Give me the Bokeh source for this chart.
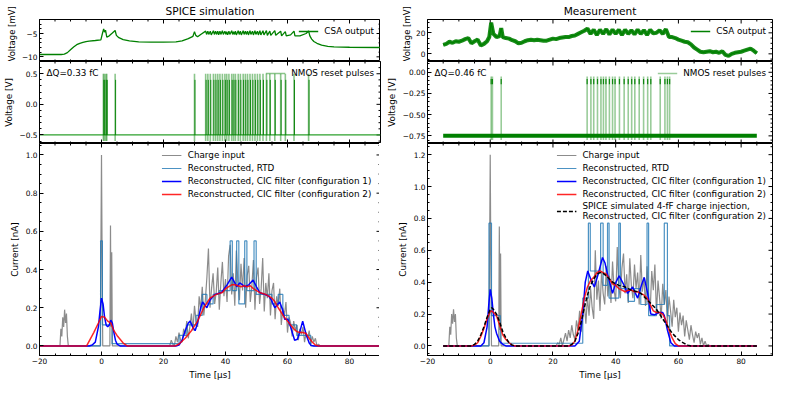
import math
from bokeh.plotting import figure
from bokeh.layouts import column, row
from bokeh.models import (Range1d, LinearAxis, SingleIntervalTicker, CustomJSTickFormatter,
                          Legend, LegendItem, Label, Title)
from bokeh.embed import file_html
from bokeh.resources import INLINE

# ---------------- data ----------------
# SPICE simulation: CSA output [mV] (time µs, value)
sim_csa = [(-20, -9.5), (-13, -9.5), (-12, -9.4), (-11, -9.1), (-10, -8.5), (-9, -7.9), (-8, -7.4),
           (-7, -7.1), (-6, -6.9), (-5, -6.75), (-4, -6.65), (-2, -6.5), (-0.2, -6.35), (0.3, -5.0),
           (0.7, -4.0), (1.0, -4.7), (1.3, -4.3), (1.7, -5.8), (2.5, -5.5), (3.5, -4.9), (4.4, -4.35),
           (4.8, -5.4), (5.6, -5.9), (7, -6.3), (9, -6.6), (12, -6.8), (16, -6.85), (20, -6.85),
           (24, -6.8), (26, -6.6), (28, -6.1), (29.5, -5.6), (30.0, -4.6), (30.4, -5.4), (31.0, -5.7),
           (32.0, -5.2), (33.6, -4.5), (33.9, -5.2), (34.3, -4.5), (34.6, -5.2), (35.1, -4.5),
           (35.4, -5.3), (36.1, -4.4), (36.4, -5.2), (36.8, -4.5), (37.1, -5.2), (37.5, -4.5),
           (37.8, -5.3), (38.2, -4.5), (38.5, -5.2), (39.0, -4.4), (39.3, -5.2), (39.8, -4.5),
           (40.1, -5.2), (40.4, -4.6), (40.7, -5.3), (41.1, -4.5), (41.4, -5.2), (42.0, -4.4),
           (42.3, -5.2), (42.6, -4.6), (42.9, -5.2), (43.2, -4.5), (43.5, -5.3), (44.1, -4.4),
           (44.4, -5.2), (44.8, -4.5), (45.1, -5.3), (45.7, -4.4), (46.0, -5.2), (46.4, -4.5),
           (46.7, -5.2), (47.1, -4.5), (47.4, -5.3), (47.9, -4.4), (48.2, -5.2), (48.7, -4.5),
           (49.0, -5.3), (49.5, -4.4), (49.8, -5.2), (50.3, -4.5), (50.6, -5.3), (51.1, -4.4),
           (51.4, -5.3), (52.1, -4.4), (52.4, -5.3), (53.2, -4.4), (53.5, -5.4), (54.3, -4.5),
           (54.6, -5.4), (55.9, -4.4), (56.2, -5.4), (57.8, -4.5), (58.1, -5.5), (59.3, -4.6),
           (59.6, -5.5), (61.0, -5.3), (62.1, -4.5), (62.4, -5.5), (64.0, -5.5), (66.0, -5.0),
           (66.8, -4.45), (67.2, -5.5), (67.8, -6.2), (68.5, -6.7), (69.5, -7.1), (71, -7.5),
           (73, -7.75), (75, -7.85), (80, -7.95), (90, -8.0)]

# Measurement: CSA output [mV]
meas_csa = [(-15, 8.5), (-14, 9.5), (-13, 11.5), (-12, 10.5), (-11, 12), (-10, 11.5), (-9, 12.5),
            (-8, 14), (-7, 15), (-6, 10), (-5, 12), (-4, 13.5), (-3, 8), (-2, 9.5), (-1, 12),
            (-0.3, 16), (0.3, 29.7), (1, 19), (2, 16), (3, 17), (3.5, 24.5), (4, 16), (5, 15),
            (6, 14.5), (7, 13), (8, 12), (9, 10), (10, 10.5), (11, 12), (12, 13), (13, 13.5),
            (14, 13), (15, 13.5), (16, 13), (17, 12.5), (18, 12.5), (19, 13.5), (20, 14.5),
            (21, 14), (22, 15), (23, 15.5), (24, 16), (25, 16), (26, 17), (27, 17.5), (28, 19),
            (29, 20.5), (30, 22), (31, 24), (32, 19), (33, 23), (34, 18), (35, 23), (36, 19),
            (37, 23.5), (38, 18.5), (39, 23), (40, 19), (41, 23), (42, 18), (43, 23), (44, 19),
            (45, 22.5), (46, 18.5), (47, 23), (48, 19), (49, 22.5), (50, 18), (51, 23), (52, 19.5),
            (53, 20), (54, 22.5), (55, 19), (56, 23.5), (57, 16), (58, 16), (59, 15), (60, 13.5),
            (61, 12.5), (62, 11.5), (63, 11), (64, 9), (65, 6), (66, 4), (67, 2), (68, 1.5),
            (69, 2), (70, 2.5), (71, 1.5), (72, 2), (73, 1), (74, 2.5), (75, -1), (76, -2),
            (77, 0), (78, 1), (79, 1.5), (80, 2), (81, 3), (82, 4), (83, 5), (84, 3), (85, 0.5)]

# NMOS reset pulse times [µs]
sim_pulses = [0.6, 0.9, 1.4, 1.7, 4.4, 30.0, 33.6, 34.3, 35.1, 36.1, 36.8, 37.5, 38.2, 39.0, 39.8,
              40.4, 41.1, 42.0, 42.6, 43.2, 44.1, 44.8, 45.7, 46.4, 47.1, 47.9, 48.7, 49.5, 50.3,
              51.1, 52.1, 53.2, 54.3, 55.9, 57.8, 59.3, 62.1, 66.8]
meas_pulses = [0.3, 0.7, 3.5, 30.9, 32.1, 33.0, 34.2, 35.3, 36.1, 36.9, 38.0, 39.0, 39.8, 41.2,
               42.7, 44.0, 45.1, 46.1, 47.5, 48.9, 50.2, 51.2, 54.2, 55.7, 56.5, 57.2]
sim_pulse_low, sim_pulse_high, sim_pulse_base = -0.6, 0.5, -0.5
meas_pulse_low, meas_pulse_high, meas_pulse_base = -0.8, -0.05, -0.75
meas_pulse_span = (-15, 85)

# Charge input [nA]
sim_charge = [(-20, 0), (-13.4, 0), (-13.1, 0.09), (-12.8, 0.05), (-12.5, 0.15), (-12.2, 0.1),
              (-11.9, 0.19), (-11.6, 0.12), (-11.3, 0.17), (-11.0, 0.05), (-10.7, 0), (-0.4, 0),
              (-0.2, 0.5), (0, 1.0), (0.2, 0.45), (0.4, 0), (2.7, 0), (2.9, 0.63), (3.1, 0.1),
              (3.3, 0.49), (3.5, 0),
              (22.0, 0.00), (22.5, 0.03), (23.0, 0.01), (23.5, 0.00), (24.0, 0.05), (24.5, 0.02),
              (25.0, 0.07), (25.5, 0.03), (26.0, 0.02), (26.5, 0.09), (27.0, 0.06), (27.5, 0.13),
              (28.0, 0.04), (28.5, 0.10), (29.0, 0.17), (29.5, 0.08), (30.0, 0.21), (30.5, 0.13),
              (31.0, 0.10), (31.5, 0.26), (32.0, 0.19), (32.5, 0.31), (33.0, 0.16), (33.5, 0.24),
              (34.0, 0.36), (34.5, 0.51), (35.0, 0.20), (35.5, 0.30), (36.0, 0.38), (36.5, 0.22),
              (37.0, 0.28), (37.5, 0.41), (38.0, 0.19), (38.5, 0.33), (39.0, 0.44), (39.5, 0.26),
              (40.0, 0.35), (40.5, 0.23), (41.0, 0.47), (41.5, 0.53), (42.0, 0.27), (42.5, 0.38),
              (43.0, 0.21), (43.5, 0.50), (44.0, 0.33), (44.5, 0.24), (45.0, 0.43), (45.5, 0.29),
              (46.0, 0.46), (46.5, 0.20), (47.0, 0.37), (47.5, 0.42), (48.0, 0.23), (48.5, 0.31),
              (49.0, 0.45), (49.5, 0.19), (50.0, 0.36), (50.5, 0.41), (51.0, 0.22), (51.5, 0.30),
              (52.0, 0.46), (52.5, 0.18), (53.0, 0.33), (53.5, 0.25), (54.0, 0.38), (54.5, 0.16),
              (55.0, 0.29), (55.5, 0.33), (56.0, 0.14), (56.5, 0.26), (57.0, 0.21), (57.5, 0.30),
              (58.0, 0.11), (58.5, 0.20), (59.0, 0.16), (59.5, 0.23), (60.0, 0.07), (60.5, 0.15),
              (61.0, 0.12), (61.5, 0.05), (62.0, 0.13), (62.5, 0.08), (63.0, 0.11), (63.5, 0.03),
              (64.0, 0.09), (64.5, 0.06), (65.0, 0.10), (65.5, 0.02), (66.0, 0.07), (66.5, 0.04),
              (67.0, 0.08), (67.5, 0.01), (68.0, 0.05), (68.5, 0.02), (69.0, 0.04), (69.5, 0.00),
              (70.0, 0.01), (70.5, 0.0), (90, 0)]

meas_charge = [(-15, 0), (-13.2, 0), (-12.9, 0.12), (-12.6, 0.07), (-12.3, 0.2), (-12.0, 0.14),
               (-11.7, 0.23), (-11.4, 0.15), (-11.1, 0.2), (-10.8, 0.05), (-10.5, 0), (-0.4, 0),
               (-0.2, 0.6), (0, 1.2), (0.2, 0.5), (0.4, 0), (2.7, 0), (2.9, 0.75), (3.1, 0.1),
               (3.3, 0.58), (3.5, 0),
               (21.0, 0.00), (21.5, 0.02), (22.0, 0.01), (22.5, 0.05), (23.0, 0.00), (23.5, 0.04),
               (24.0, 0.08), (24.5, 0.03), (25.0, 0.10), (25.5, 0.05), (26.0, 0.13), (26.5, 0.07),
               (27.0, 0.04), (27.5, 0.16), (28.0, 0.10), (28.5, 0.22), (29.0, 0.09), (29.5, 0.18),
               (30.0, 0.27), (30.5, 0.14), (31.0, 0.31), (31.5, 0.19), (32.0, 0.36), (32.5, 0.24),
               (33.0, 0.17), (33.5, 0.60), (34.0, 0.29), (34.5, 0.41), (35.0, 0.22), (35.5, 0.47),
               (36.0, 0.33), (36.5, 0.26), (37.0, 0.50), (37.5, 0.31), (38.0, 0.44), (38.5, 0.27),
               (39.0, 0.53), (39.5, 0.35), (40.0, 0.28), (40.5, 0.62), (41.0, 0.37), (41.5, 0.30),
               (42.0, 0.49), (42.5, 0.58), (43.0, 0.33), (43.5, 0.45), (44.0, 0.27), (44.5, 0.55),
               (45.0, 0.38), (45.5, 0.30), (46.0, 0.51), (46.5, 0.36), (47.0, 0.46), (47.5, 0.26),
               (48.0, 0.57), (48.5, 0.34), (49.0, 0.43), (49.5, 0.25), (50.0, 0.50), (50.5, 0.31),
               (51.0, 0.22), (51.5, 0.47), (52.0, 0.35), (52.5, 0.51), (53.0, 0.20), (53.5, 0.41),
               (54.0, 0.30), (54.5, 0.17), (55.0, 0.39), (55.5, 0.26), (56.0, 0.35), (56.5, 0.14),
               (57.0, 0.31), (57.5, 0.22), (58.0, 0.12), (58.5, 0.29), (59.0, 0.18), (59.5, 0.24),
               (60.0, 0.09), (60.5, 0.21), (61.0, 0.13), (61.5, 0.19), (62.0, 0.06), (62.5, 0.16),
               (63.0, 0.10), (63.5, 0.04), (64.0, 0.13), (64.5, 0.07), (65.0, 0.02), (65.5, 0.09),
               (66.0, 0.05), (66.5, 0.08), (67.0, 0.01), (67.5, 0.05), (68.0, 0.00), (68.5, 0.03),
               (69.0, 0.00), (69.5, 0.01), (70.0, 0.00), (85, 0)]

# Reconstructed, RTD (step start time, level)
sim_rtd = [(-20, 0), (-0.3, 0.55), (0.3, 0.11), (3.4, 0.012), (25.0, 0.055), (27.5, 0.11),
           (30.5, 0.16), (32.5, 0.27), (34.0, 0.22), (36.0, 0.27), (38.0, 0.29), (41.5, 0.55),
           (42.2, 0.29), (43.6, 0.55), (44.3, 0.22), (46.2, 0.55), (46.9, 0.29), (49.2, 0.55),
           (49.9, 0.27), (52.0, 0.27), (55.0, 0.22), (57.0, 0.27), (58.5, 0.16), (60.5, 0.11),
           (63.0, 0.055), (67.5, 0), (90, 0)]
meas_rtd = [(-15, 0), (-0.4, 0.77), (0.4, 0.19), (3.2, 0.017), (29.5, 0.3), (31.3, 0.77),
            (31.9, 0.47), (35.2, 0.77), (36.0, 0.38), (37.4, 0.77), (37.9, 0.30), (41.0, 0.77),
            (41.5, 0.36), (44.0, 0.28), (46.0, 0.36), (48.0, 0.26), (50.0, 0.77), (50.5, 0.19),
            (53.0, 0.26), (55.5, 0.77), (56.5, 0.19), (57.2, 0), (85, 0)]

# Reconstructed, CIC filter (configuration 1)
sim_cic1 = [(-20, 0), (-4, 0), (-3, 0.005), (-2, 0.02), (-1, 0.1), (-0.5, 0.18), (0, 0.25),
            (0.5, 0.22), (1, 0.15), (1.5, 0.11), (2, 0.10), (2.5, 0.11), (3, 0.135), (3.5, 0.12),
            (4, 0.07), (4.5, 0.03), (5, 0.01), (6, 0), (24, 0), (25, 0.005), (26, 0.03), (27, 0.08),
            (28, 0.12), (28.6, 0.13), (29.4, 0.1), (30.2, 0.08), (31, 0.12), (32, 0.2), (32.6, 0.23),
            (34, 0.2), (35, 0.24), (36.6, 0.27), (38.7, 0.28), (40.5, 0.32), (42, 0.36), (43, 0.33),
            (43.6, 0.31), (44.6, 0.33), (45.5, 0.32), (46.2, 0.31), (47.5, 0.32), (48.9, 0.345),
            (50, 0.31), (51, 0.28), (52.6, 0.27), (54, 0.26), (54.8, 0.24), (55.9, 0.2), (57.5, 0.23),
            (58.4, 0.19), (59.1, 0.14), (60.1, 0.14), (61, 0.1), (62.3, 0.03), (63.2, 0.035),
            (63.9, 0.07), (64.9, 0.13), (66, 0.06), (67, 0.015), (67.6, 0.003), (68.5, 0), (90, 0)]
meas_cic1 = [(-15, 0), (-3, 0), (-2, 0.02), (-1, 0.12), (-0.5, 0.25), (0, 0.355), (0.5, 0.3),
             (1, 0.2), (1.5, 0.12), (2, 0.08), (3, 0.03), (4, 0.01), (5, 0), (27, 0), (28.4, 0.03),
             (29.5, 0.2), (30.3, 0.4), (31.1, 0.47), (32.2, 0.41), (33.2, 0.37), (34.4, 0.45),
             (35.8, 0.555), (36.6, 0.52), (37.4, 0.45), (39.0, 0.33), (40.1, 0.4), (41.1, 0.44),
             (42.7, 0.38), (43.8, 0.33), (45.4, 0.37), (47.0, 0.3), (48.2, 0.38), (49.1, 0.43),
             (50.2, 0.33), (51.2, 0.2), (52.3, 0.195), (53.9, 0.21), (55.0, 0.21), (55.5, 0.19),
             (56.5, 0.1), (57.6, 0.02), (58.7, 0), (85, 0)]

# Reconstructed, CIC filter (configuration 2)
sim_cic2 = [(-20, 0), (-4.8, 0), (-3.5, 0.04), (-2.5, 0.07), (-1, 0.12), (0, 0.155), (1, 0.15),
            (2, 0.13), (3, 0.12), (4, 0.08), (5, 0.055), (6, 0.035), (7, 0.015), (8.3, 0),
            (23.8, 0), (25, 0.01), (27, 0.04), (29, 0.08), (31, 0.13), (33, 0.2), (35, 0.25),
            (37, 0.27), (39, 0.28), (40, 0.3), (42, 0.32), (43, 0.32), (44, 0.315), (45, 0.31),
            (46, 0.315), (47, 0.31), (48, 0.315), (49, 0.3), (50, 0.29), (51, 0.28), (52, 0.275),
            (53, 0.27), (54, 0.26), (55, 0.25), (56, 0.23), (57, 0.2), (58, 0.175), (59, 0.15),
            (60, 0.13), (61, 0.11), (62, 0.09), (63, 0.075), (64, 0.07), (65, 0.07), (66, 0.065),
            (67, 0.04), (68, 0.02), (69, 0.005), (70, 0), (90, 0)]
meas_cic2 = [(-15, 0), (-6, 0), (-5, 0.005), (-4, 0.02), (-3, 0.06), (-2, 0.11), (-1, 0.17),
             (0, 0.215), (0.5, 0.22), (1, 0.21), (2, 0.19), (3, 0.13), (4, 0.07), (5, 0.04),
             (6, 0.02), (7, 0.005), (8, 0), (25, 0), (26, 0.005), (27, 0.03), (28, 0.1), (29, 0.2),
             (30, 0.3), (31, 0.37), (32, 0.41), (33, 0.43), (34, 0.46), (35, 0.47), (36, 0.46),
             (37, 0.45), (38, 0.42), (39, 0.39), (40, 0.38), (41, 0.36), (42, 0.35), (43, 0.34),
             (44, 0.35), (45, 0.35), (46, 0.34), (47, 0.34), (48, 0.33), (49, 0.32), (50, 0.3),
             (51, 0.26), (52, 0.22), (53, 0.21), (54, 0.21), (55, 0.2), (56, 0.16), (57, 0.1),
             (58, 0.05), (59, 0.015), (60, 0), (85, 0)]

# SPICE simulated 4-fF charge injection (configuration 2)
meas_spice = [(-15, 0), (-6, 0), (-5, 0.01), (-4, 0.03), (-3, 0.07), (-2, 0.12), (-1, 0.18),
              (0, 0.23), (0.5, 0.24), (1, 0.23), (2, 0.2), (3, 0.15), (4, 0.09), (5, 0.05),
              (6, 0.02), (7, 0.005), (8, 0), (25, 0), (26, 0.01), (27, 0.03), (28, 0.08), (29, 0.15),
              (30, 0.24), (31, 0.32), (32, 0.38), (33, 0.42), (34, 0.45), (35, 0.46), (36, 0.455),
              (37, 0.44), (38, 0.42), (39, 0.4), (40, 0.39), (41, 0.38), (42, 0.375), (43, 0.37),
              (44, 0.36), (45, 0.35), (46, 0.345), (47, 0.34), (48, 0.33), (49, 0.31), (50, 0.29),
              (51, 0.27), (52, 0.25), (53, 0.23), (54, 0.2), (55, 0.17), (56, 0.14), (57, 0.11),
              (58, 0.08), (59, 0.06), (60, 0.04), (61, 0.025), (62, 0.015), (63, 0.005), (64, 0),
              (85, 0)]

titles = ["SPICE simulation", "Measurement"]
dq_labels = ["\u0394Q=0.33 fC", "\u0394Q=0.46 fC"]
legend_bottom = ["Charge input", "Reconstructed, RTD", "Reconstructed, CIC filter (configuration 1)",
                 "Reconstructed, CIC filter (configuration 2)",
                 "SPICE simulated 4-fF charge injection,\nReconstructed, CIC filter (configuration 2)"]

# ---------------- style ----------------
FONT = "DejaVu Sans"
TICK_FS = "7.4px"
LAB_FS = "8.8px"
TOP_LAB_FS = "8.5px"
TITLE_FS = "10.6px"
XR = (-20, 90)
X_MAJOR, X_MINOR_N = 20, 4


def xy(pairs):
    return [a for a, b in pairs], [b for a, b in pairs]


def tick_values(lo, hi, step):
    k0 = math.ceil(lo / step - 1e-9)
    k1 = math.floor(hi / step + 1e-9)
    return [round(k * step, 6) for k in range(k0, k1 + 1)]


def fmt(dec):
    return CustomJSTickFormatter(args=dict(d=dec),
                                 code="var s = Math.abs(tick) < 1e-9 ? (0).toFixed(d) : tick.toFixed(d); return s.replace('-', '\u2212');")


def style_axis(ax):
    ax.major_tick_in = 4
    ax.major_tick_out = 0
    ax.minor_tick_in = 2
    ax.minor_tick_out = 0
    ax.axis_line_color = "black"
    ax.major_tick_line_color = "black"
    ax.minor_tick_line_color = "black"
    ax.major_label_text_font = FONT
    ax.major_label_text_color = "black"
    ax.major_label_text_font_size = TICK_FS
    ax.major_label_standoff = 2
    ax.axis_label_text_font = FONT
    ax.axis_label_text_font_size = LAB_FS
    ax.axis_label_text_font_style = "normal"
    ax.axis_label_text_color = "black"
    ax.axis_label_standoff = 3


def edge_ticks(p, yr, yint, yminor_n, top=True, bottom=True):
    """inward tick marks on edges without labelled axes (half of a dash marker is clipped)"""
    xmaj = tick_values(XR[0], XR[1], X_MAJOR)
    xmin = [v for v in tick_values(XR[0], XR[1], X_MAJOR / X_MINOR_N) if v not in xmaj]
    edges = ([yr[1]] if top else []) + ([yr[0]] if bottom else [])
    for e in edges:
        p.scatter(xmaj, [e] * len(xmaj), marker="dash", size=8, angle=math.pi / 2,
                  line_color="black", line_width=1)
        p.scatter(xmin, [e] * len(xmin), marker="dash", size=4, angle=math.pi / 2,
                  line_color="black", line_width=1)
    ymaj = tick_values(yr[0], yr[1], yint)
    ymin = [v for v in tick_values(yr[0], yr[1], yint / yminor_n)
            if all(abs(v - m) > 1e-6 for m in ymaj)]
    p.scatter([XR[1]] * len(ymaj), ymaj, marker="dash", size=8, line_color="black", line_width=1)
    p.scatter([XR[1]] * len(ymin), ymin, marker="dash", size=4, line_color="black", line_width=1)


def make_fig(yr, fw, fh, left, right, top, bottom, yint, yminor_n, ydec, ylabel,
             xlabel=None, title=None, ylabel_as_title=False):
    p = figure(x_range=Range1d(*XR), y_range=Range1d(*yr), frame_width=fw, frame_height=fh,
               min_border_left=left, min_border_right=right, min_border_top=top,
               min_border_bottom=bottom, output_backend="svg", toolbar_location=None,
               x_axis_location=None, y_axis_location=None)
    p.outline_line_color = "black"
    p.outline_line_width = 1
    p.background_fill_color = "white"
    p.border_fill_color = "white"
    if title:
        p.title.text = title
        p.title.align = "center"
        p.title.text_font = FONT
        p.title.text_font_size = TITLE_FS
        p.title.text_font_style = "normal"
        p.title.text_color = "black"
        p.title.standoff = 5
    yax = LinearAxis(ticker=SingleIntervalTicker(interval=yint, num_minor_ticks=yminor_n),
                     formatter=fmt(ydec))
    style_axis(yax)
    if not ylabel_as_title:
        yax.axis_label = ylabel
    p.add_layout(yax, "left")
    if ylabel_as_title:
        # long label anchored at the bottom of the short panel, running upwards
        p.add_layout(Title(text=ylabel, align="left", text_font=FONT, text_font_size=TOP_LAB_FS,
                           text_font_style="normal", text_color="black", standoff=3,
                           offset=0), "left")
    if xlabel is not None:
        xax = LinearAxis(ticker=SingleIntervalTicker(interval=X_MAJOR, num_minor_ticks=X_MINOR_N),
                         formatter=fmt(0), axis_label=xlabel)
        style_axis(xax)
        p.add_layout(xax, "below")
    edge_ticks(p, yr, yint, yminor_n, top=True, bottom=(xlabel is None))
    for g in list(p.center):
        if g.__class__.__name__ == "Grid":
            g.visible = False
    return p


def make_legend(items):
    return Legend(items=items, location="top_right", label_text_font=FONT,
                  label_text_font_size=LAB_FS, label_text_color="black", glyph_width=20,
                  glyph_height=12, label_height=12, label_standoff=6, spacing=1, padding=2,
                  margin=4, background_fill_alpha=0, border_line_alpha=0)


H_TOP, H_MID, H_BOT = 42, 82, 212
cols = []
configs = [
    dict(fw=341, left=35, right=3, ytop=(-11.0, -2.0), ytop_int=5, ytop_minor=5, ytop_dec=0,
         ymid=(-0.64, 0.70), ymid_int=0.5, ymid_minor=5, ymid_dec=1,
         ybot=(-0.05, 1.06), ybot_int=0.2, ybot_minor=4, ybot_dec=1),
    dict(fw=345, left=41, right=6, ytop=(-7.3, 32.7), ytop_int=20, ytop_minor=4, ytop_dec=0,
         ymid=(-0.84, 0.127), ymid_int=0.25, ymid_minor=5, ymid_dec=2,
         ybot=(-0.06, 1.27), ybot_int=0.2, ybot_minor=4, ybot_dec=1),
]

for i, c in enumerate(configs):
    sim = (i == 0)
    # --- top: CSA output
    pt = make_fig(c["ytop"], c["fw"], H_TOP, c["left"], c["right"], 0, 0,
                  c["ytop_int"], c["ytop_minor"], c["ytop_dec"], "Voltage [mV]",
                  title=titles[i], ylabel_as_title=True)
    tx, ty = xy(sim_csa if sim else meas_csa)
    if sim:
        r = pt.line(tx, ty, color="green", line_width=1.3)
    else:
        pt.line(tx, ty, color="green", line_width=4, line_alpha=0.9)
        r = pt.line(tx, ty, color="green", line_width=1.3)
    pt.add_layout(make_legend([LegendItem(label="CSA output", renderers=[r])]))

    # --- middle: reset pulses
    pm = make_fig(c["ymid"], c["fw"], H_MID, c["left"], c["right"], 0, 0,
                  c["ymid_int"], c["ymid_minor"], c["ymid_dec"], "Voltage [V]")
    if sim:
        pm.line(list(XR), [sim_pulse_base, sim_pulse_base], color="#2ca02c", line_width=1.2)
        xs = [[t, t] for t in sim_pulses]
        rl = pm.multi_line(xs, [[sim_pulse_low, sim_pulse_high] for t in sim_pulses],
                           color="green", line_alpha=0.45, line_width=1.6)
        pm.multi_line([[t + 0.15, t + 0.15] for t in sim_pulses],
                      [[sim_pulse_base, sim_pulse_high - 0.1] for t in sim_pulses],
                      color="green", line_alpha=0.9, line_width=1)
    else:
        pm.line(list(meas_pulse_span), [meas_pulse_base, meas_pulse_base], color="green",
                line_width=4)
        xs = [[t, t] for t in meas_pulses]
        rl = pm.multi_line(xs, [[meas_pulse_low, meas_pulse_high] for t in meas_pulses],
                           color="green", line_alpha=0.4, line_width=1.6)
        pm.multi_line(xs, [[meas_pulse_high - 0.09, meas_pulse_high - 0.03] for t in meas_pulses],
                      color="green", line_alpha=0.9, line_width=1.2)
    pm.add_layout(make_legend([LegendItem(label="NMOS reset pulses", renderers=[rl])]))
    pm.add_layout(Label(x=XR[0], y=c["ymid"][1], x_offset=7, y_offset=-11, text=dq_labels[i],
                        text_baseline="middle", text_font=FONT, text_font_size=LAB_FS,
                        text_color="black"))

    # --- bottom: currents
    pb = make_fig(c["ybot"], c["fw"], H_BOT, c["left"], c["right"], 0, 24,
                  c["ybot_int"], c["ybot_minor"], c["ybot_dec"], "Current [nA]",
                  xlabel="Time [\u00b5s]")
    gx, gy = xy(sim_charge if sim else meas_charge)
    r1 = pb.line(gx, gy, color="gray", line_width=1.2, line_alpha=0.9)
    rx, ry = xy(sim_rtd if sim else meas_rtd)
    r2 = pb.step(rx, ry, mode="after", color="#1f77b4", line_width=1.2, line_alpha=0.8)
    bx, by = xy(sim_cic1 if sim else meas_cic1)
    r3 = pb.line(bx, by, color="blue", line_width=1.5)
    cx, cy = xy(sim_cic2 if sim else meas_cic2)
    r4 = pb.line(cx, cy, color="red", line_width=1.5, line_alpha=0.85)
    items = [LegendItem(label=legend_bottom[0], renderers=[r1]),
             LegendItem(label=legend_bottom[1], renderers=[r2]),
             LegendItem(label=legend_bottom[2], renderers=[r3]),
             LegendItem(label=legend_bottom[3], renderers=[r4])]
    if not sim:
        dx, dy = xy(meas_spice)
        r5 = pb.line(dx, dy, color="black", line_width=1.5, line_dash="4 2")
        items.append(LegendItem(label=legend_bottom[4], renderers=[r5]))
    pb.add_layout(make_legend(items))

    cols.append(column(pt, pm, pb, spacing=0))

layout = row(*cols, spacing=0)
open("out.html", "w").write(file_html(layout, INLINE))
